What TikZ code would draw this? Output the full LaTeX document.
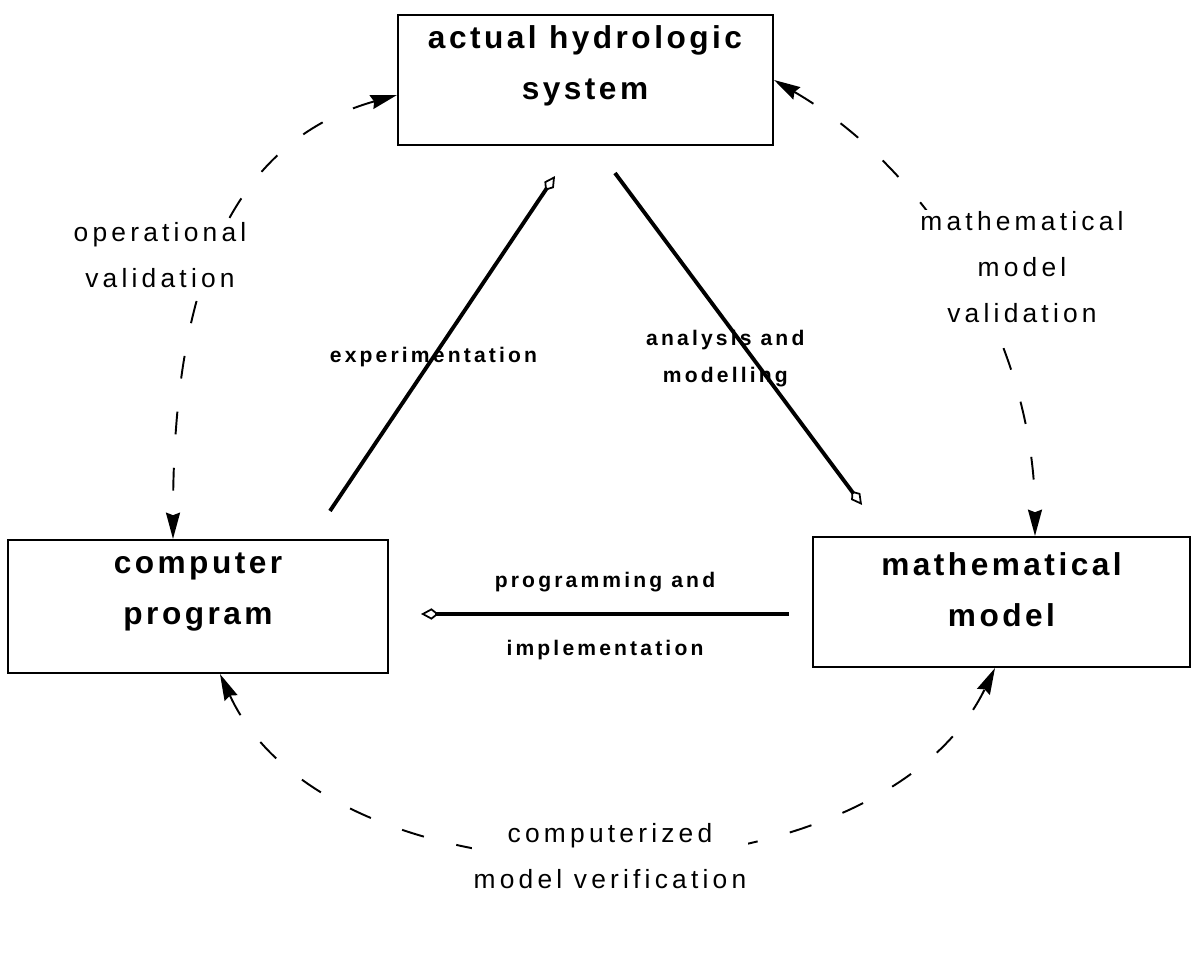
\documentclass[tikz,border=0pt]{standalone}
\usepackage{fontspec}
\setmainfont{Liberation Sans}
\newfontfamily\boxfont[LetterSpace=11]{Liberation Sans Bold}
\newfontfamily\midfont[LetterSpace=16]{Liberation Sans}
\newfontfamily\tinyfont[LetterSpace=15]{Liberation Sans Bold}
\usetikzlibrary{arrows.meta}

\begin{document}
\begin{tikzpicture}[x=0.02cm,y=0.02cm,
  box/.style={draw,rectangle,line width=1.2pt},
  boxtext/.style={align=center,font=\boxfont\fontsize{18}{29}\selectfont},
  midlabel/.style={align=center,fill=white,inner sep=1pt,font=\midfont\fontsize{15}{26}\selectfont},
  tinylabel/.style={align=center,font=\tinyfont\fontsize{12}{21}\selectfont},
  flow/.style={line width=2.2pt,-{Kite[open,length=10pt,width=6.5pt,inset=4pt,line width=1pt]}},
  check/.style={line width=1.1pt,dash pattern=on 13pt off 19pt,
    {Stealth[length=15pt,width=8pt,inset=1.5pt]}-{Stealth[length=15pt,width=8pt,inset=1.5pt]}}]
  \useasboundingbox (0,0) rectangle (1198,958);

  % boxes
  \node[box,minimum width=7.5cm,minimum height=2.6cm] (sys) at (585.5,878) {};
  \node[boxtext] (systext) at (585,892) {actual hydrologic\\system};
  \node[box,minimum width=7.6cm,minimum height=2.66cm] (prog) at (198,351.5) {};
  \node[boxtext] (progtext) at (198,366) {computer\\program};
  \node[box,minimum width=7.54cm,minimum height=2.6cm] (math) at (1001.5,356) {};
  \node[boxtext] (mathtext) at (1001.5,368) {mathematical\\model};

  % solid connectors
  \draw[flow] ([xshift=2.64cm,yshift=0.56cm]prog.north) -- node[tinylabel,pos=0.46] {experimentation} ([xshift=-0.61cm,yshift=-0.6cm]sys.south);
  \draw[flow] ([xshift=0.59cm,yshift=-0.54cm]sys.south) -- node[tinylabel,pos=0.56,xshift=-0.56cm] {analysis and\\modelling} ([xshift=-2.79cm,yshift=0.62cm]math.north);
  \draw[flow] ([xshift=-0.46cm,yshift=-0.24cm]math.west) -- node[tinylabel,midway,yshift=0.64cm] {programming and}
    node[tinylabel,midway,yshift=-0.72cm] {implementation} ([xshift=0.64cm,yshift=-0.15cm]prog.east);

  % dashed validation loops
  \draw[check] ([yshift=-0.3cm]sys.west) .. controls (205,809) and (173,621) .. ([xshift=-0.5cm]prog.north);
  \draw[check] (sys.east) .. controls (935,784) and (1035,609) .. ([xshift=0.67cm]math.north);
  \draw[check] ([xshift=0.44cm]prog.south) .. controls (333,39) and (876,45) .. ([xshift=-0.13cm]math.south);

  \node[midlabel] (opval) at (160,703) {operational\\validation};
  \node[midlabel] (mmval) at (1022,691) {mathematical\\model\\validation};
  \node[midlabel] (cmver) at (610,102) {computerized\\model verification};
\end{tikzpicture}
\end{document}
